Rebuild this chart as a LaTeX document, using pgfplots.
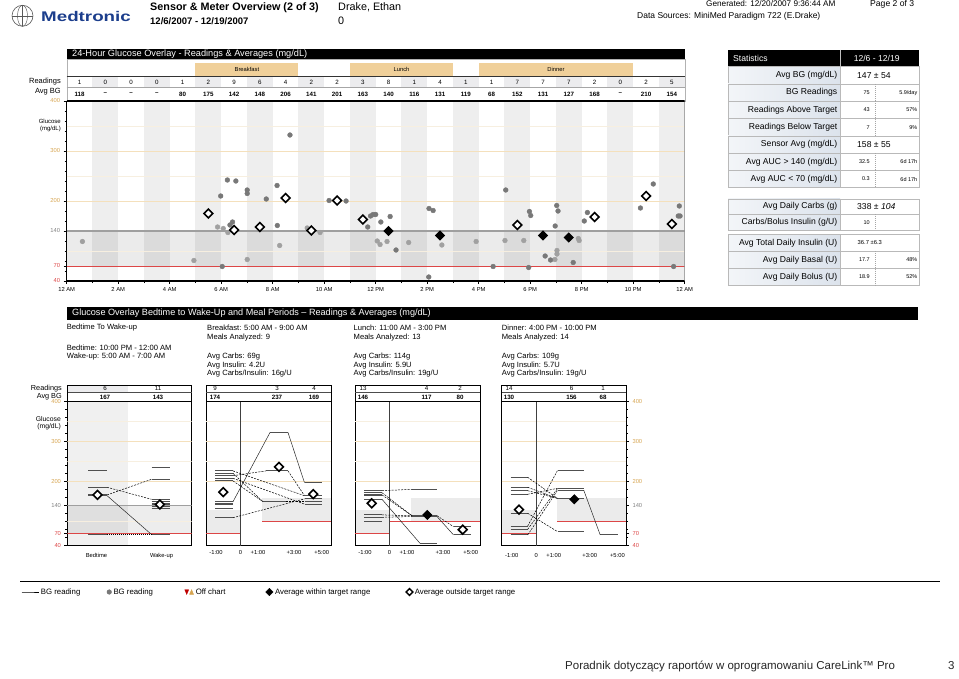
\documentclass[border=0pt]{standalone}
\usepackage{fontspec}
\setmainfont{Liberation Sans}
\usepackage{graphicx}
\usepackage{pgfplots}
\pgfplotsset{compat=1.18}
\definecolor{tanc}{RGB}{240,208,154}
\definecolor{tanline}{RGB}{244,224,188}
\definecolor{tanfaint}{RGB}{247,239,224}
\definecolor{tanlab}{RGB}{214,164,80}
\definecolor{redl}{RGB}{220,70,70}
\definecolor{dotd}{RGB}{120,120,120}
\definecolor{dotl}{RGB}{160,160,160}
\definecolor{cellg}{RGB}{236,236,238}
\definecolor{statl}{RGB}{220,227,236}
\definecolor{mblue}{RGB}{28,62,140}
\definecolor{segc}{RGB}{80,80,80}
\newcommand{\fs}[1]{\fontsize{#1}{#1}\selectfont}
\pgfplotsset{
  odiam/.style={only marks, mark=square*, mark size=3.1pt, mark options={rotate=45, fill=white, draw=black, line width=1.6pt}, forget plot},
  fdiam/.style={only marks, mark=square*, mark size=3.1pt, mark options={rotate=45, fill=black, draw=black, line width=1pt}, forget plot},
  seg/.style={segc, line width=1.1pt, forget plot, unbounded coords=jump},
  con/.style={black, line width=0.5pt, dash pattern=on 2pt off 1.2pt, forget plot},
  sol/.style={black!85, line width=0.5pt, forget plot},
  panel/.style={scale only axis, height=144pt, ymin=40, ymax=400,
     axis line style={line width=0.8pt},
     ytick=\empty, xtick style={draw=none},
     ticklabel style={font=\fs{5.8}},
     xticklabel style={yshift=-1pt}},
  ylabs/.style={ytick={40,70,140,200,300,400},
     yticklabels={\textcolor{redl}{40},\textcolor{redl}{70},\textcolor{gray}{140},\textcolor{tanlab}{200},\textcolor{tanlab}{300},\textcolor{tanlab}{400}},
     minor ytick={60,80,...,380}, tick align=outside,
     major tick length=3pt, minor tick length=2pt,
     ytick style={black, line width=0.4pt}},
}
\newcommand{\srow}[3]{%
  \shade[left color=statl!35, right color=statl] (728,#1) rectangle (840,#2);
  \draw[gray!55, line width=0.5pt] (728,#1) rectangle (919,#2);
  \draw[gray!55, line width=0.5pt] (840,#1) -- (840,#2);
  \node[anchor=east, font=\fs{8.6}, inner sep=0pt] at (837.5,{(#1+#2)/2}) {#3};
}
\newcommand{\sdash}[2]{\draw[gray!70, dash pattern=on 1pt off 1pt] (875,#1) -- (875,#2);}
\begin{document}
\begin{tikzpicture}
\begin{scope}[yshift=678pt, x=1pt, y=-1pt]
\useasboundingbox (0,0) rectangle (959,678);
% ---------- header
\draw[gray!70!black, line width=0.6pt] (22.5,15.8) circle (10.5pt);
\draw[gray!70!black, line width=0.45pt] (12,15.8) -- (33,15.8) (22.5,5.3) -- (22.5,26.3);
\draw[gray!70!black, line width=0.45pt] (22.5,15.8) ellipse (5pt and 10.5pt);
\node[anchor=base west, inner sep=0pt, text=mblue, font=\fs{14}\bfseries] at (41,21.5) {\scalebox{1.34}[1]{Medtronic}};
\node[anchor=base west, inner sep=0pt, font=\fs{10.8}\bfseries] at (150,10.5) {Sensor \& Meter Overview (2 of 3)};
\node[anchor=base west, inner sep=0pt, font=\fs{9.5}\bfseries] at (150,25) {12/6/2007 - 12/19/2007};
\node[anchor=base west, inner sep=0pt, font=\fs{10.8}] at (338,10.5) {Drake, Ethan};
\node[anchor=base west, inner sep=0pt, font=\fs{10.8}] at (338,25) {0};
\node[anchor=base west, inner sep=0pt, font=\fs{8.2}] at (706,6.5) {Generated: 12/20/2007 9:36:44 AM};
\node[anchor=base west, inner sep=0pt, font=\fs{8.6}] at (870,6.5) {Page 2 of 3};
\node[anchor=base west, inner sep=0pt, font=\fs{8.5}] at (637,18.5) {Data Sources: MiniMed Paradigm 722 (E.Drake)};
% ---------- top chart header table
\fill[black] (66.7,49) rectangle (684.7,59);
\node[anchor=west, inner sep=0pt, white, font=\fs{9.2}] at (72,54) {24-Hour Glucose Overlay - Readings \& Averages (mg/dL)};
\fill[tanc] (195.45,63) rectangle (298.45,76);
\fill[tanc] (349.95,63) rectangle (452.95,76);
\fill[tanc] (478.7,63) rectangle (633.2,76);
\node[font=\fs{5.8}] at (246.9,69.5) {Breakfast};
\node[font=\fs{5.8}] at (401.5,69.5) {Lunch};
\node[font=\fs{5.8}] at (556,69.5) {Dinner};
\foreach \h in {1,3,...,23} \fill[cellg] ({66.7+25.75*\h},76.7) rectangle ({66.7+25.75*(\h+1)},87.3);
\draw[gray!60, line width=0.4pt] (66.7,59) rectangle (684.7,101);
\draw[black!80, line width=0.5pt] (66.7,76.7) -- (684.7,76.7);
\draw[gray!70, line width=0.4pt] (66.7,87.3) -- (684.7,87.3);
\foreach \h/\r/\a in {0/1/118,1/0/--,2/0/--,3/0/--,4/1/80,5/2/175,6/9/142,7/6/148,8/4/206,9/2/141,10/2/201,11/3/163,12/8/140,13/1/116,14/4/131,15/1/119,16/1/68,17/7/152,18/7/131,19/7/127,20/2/168,21/0/--,22/2/210,23/5/154}{
  \node[font=\fs{6.2}] at ({66.7+25.75*(\h+0.5)},82) {\r};
  \node[font=\fs{6.2}\bfseries] at ({66.7+25.75*(\h+0.5)},94) {\a};
}
\node[anchor=east, inner sep=0pt, font=\fs{7.5}] at (61,82) {Readings};
\node[anchor=east, inner sep=0pt, font=\fs{7.5}] at (61,92) {Avg BG};
\node[anchor=east, inner sep=0pt, font=\fs{6}] at (61,121) {Glucose};
\node[anchor=east, inner sep=0pt, font=\fs{6}] at (61,128.5) {(mg/dL)};
% ---------- statistics table
\fill[black] (728,50) rectangle (919,66.7);
\draw[gray!50] (840,50) -- (840,66.7);
\node[anchor=west, inner sep=0pt, white, font=\fs{8.6}] at (733,58.3) {Statistics};
\node[white, font=\fs{8.6}] at (876.7,58.3) {12/6 - 12/19};
\srow{66.7}{84.0}{Avg BG (mg/dL)}
\srow{84.0}{101.3}{BG Readings}
\srow{101.3}{118.6}{Readings Above Target}
\srow{118.6}{135.9}{Readings Below Target}
\srow{135.9}{153.2}{Sensor Avg (mg/dL)}
\srow{153.2}{170.4}{Avg AUC > 140 (mg/dL)}
\srow{170.4}{187.7}{Avg AUC < 70 (mg/dL)}
\srow{199}{214.5}{Avg Daily Carbs (g)}
\srow{214.5}{230.5}{Carbs/Bolus Insulin (g/U)}
\srow{234.3}{251.4}{Avg Total Daily Insulin (U)}
\srow{251.4}{268.6}{Avg Daily Basal (U)}
\srow{268.6}{285.7}{Avg Daily Bolus (U)}
\sdash{84.0}{101.3}\sdash{101.3}{118.6}\sdash{118.6}{135.9}\sdash{153.2}{170.4}\sdash{170.4}{187.7}
\sdash{214.5}{230.5}\sdash{251.4}{268.6}\sdash{268.6}{285.7}
\node[anchor=west, inner sep=0pt, font=\fs{8.6}] at (857,75.3) {147 ± 54};
\node[anchor=west, inner sep=0pt, font=\fs{8.6}] at (857,144.5) {158 ± 55};
\node[anchor=west, inner sep=0pt, font=\fs{8.6}] at (857,206.8) {338 ± \textit{104}};
\node[anchor=west, inner sep=0pt, font=\fs{5.8}] at (857.5,242.9) {36.7 ±6.3};
\foreach \y/\a/\b in {92.6/75/{5.9/day},110.0/43/57\%,127.2/7/9\%,161.8/32.5/6d 17h,179.1/0.3/6d 17h,222.5/10/{},260/17.7/48\%,277.1/18.9/52\%}{
  \node[anchor=east, inner sep=0pt, font=\fs{5.5}] at (870,\y) {\a};
  \node[anchor=east, inner sep=0pt, font=\fs{5.5}] at (917.5,\y) {\b};
}
% ---------- bottom section texts
\fill[black] (66.7,307) rectangle (918,320);
\node[anchor=west, inner sep=0pt, white, font=\fs{9.1}] at (72,313.5) {Glucose Overlay Bedtime to Wake-Up and Meal Periods – Readings \& Averages (mg/dL)};
\begin{scope}[every node/.style={anchor=west, inner sep=0pt, font=\fs{7.6}}]
\node at (66.7,328) {Bedtime To Wake-up};
\node at (66.7,348) {Bedtime: 10:00 PM - 12:00 AM};
\node at (66.7,356.7) {Wake-up: 5:00 AM - 7:00 AM};
\node at (207,328) {Breakfast: 5:00 AM - 9:00 AM};
\node at (207,338) {Meals Analyzed: 9};
\node at (207,356.7) {Avg Carbs: 69g};
\node at (207,365.3) {Avg Insulin: 4.2U};
\node at (207,374) {Avg Carbs/Insulin: 16g/U};
\node at (353.5,328) {Lunch: 11:00 AM - 3:00 PM};
\node at (353.5,338) {Meals Analyzed: 13};
\node at (353.5,356.7) {Avg Carbs: 114g};
\node at (353.5,365.3) {Avg Insulin: 5.9U};
\node at (353.5,374) {Avg Carbs/Insulin: 19g/U};
\node at (501.7,328) {Dinner: 4:00 PM - 10:00 PM};
\node at (501.7,338) {Meals Analyzed: 14};
\node at (501.7,356.7) {Avg Carbs: 109g};
\node at (501.7,365.3) {Avg Insulin: 5.7U};
\node at (501.7,374) {Avg Carbs/Insulin: 19g/U};
\end{scope}
% bottom readings tables
\fill[cellg] (67.5,385) rectangle (128,392.5);
\foreach \l/\w in {67.5/124,206/125,355/125,501.7/124.3}{
  \draw[black, line width=0.5pt] (\l,385) rectangle ({\l+\w},401.7);
  \draw[black!70, line width=0.4pt] (\l,392.5) -- ({\l+\w},392.5);
}
\foreach \x/\r/\a in {105/6/167,158/11/143,215/9/174,277/3/237,314/4/169,363/13/146,426.5/4/117,460/2/80,509/14/130,571.5/6/156,603/1/68}{
  \node[font=\fs{6.2}] at (\x,388.5) {\r};
  \node[font=\fs{6.2}\bfseries] at (\x,397) {\a};
}
\node[anchor=east, inner sep=0pt, font=\fs{7.3}] at (62,388.5) {Readings};
\node[anchor=east, inner sep=0pt, font=\fs{7.3}] at (62,397) {Avg BG};
\node[anchor=east, inner sep=0pt, font=\fs{6.8}] at (61,419) {Glucose};
\node[anchor=east, inner sep=0pt, font=\fs{6.8}] at (61,426.5) {(mg/dL)};
% ---------- legend rule and footer
\draw[black, line width=1pt] (20,581.5) -- (940,581.5);
\node[anchor=west, inner sep=0pt, font=\fs{11.5}, text=black!85] at (565,666) {Poradnik dotyczący raportów w oprogramowaniu CareLink™ Pro};
\node[anchor=west, inner sep=0pt, font=\fs{11.5}, text=black!85] at (948,666) {3};
\end{scope}
% ---------- top chart
\begin{axis}[
  at={(66.7pt,397pt)}, anchor=south west,
  scale only axis, width=618pt, height=180pt,
  xmin=0, xmax=24, ymin=40, ymax=400,
  axis x line*=bottom, axis y line*=left,
  axis line style={line width=1.1pt},
  tick align=outside,
  xtick={0,2,...,24},
  xticklabels={12 AM,2 AM,4 AM,6 AM,8 AM,10 AM,12 PM,2 PM,4 PM,6 PM,8 PM,10 PM,12 AM},
  minor xtick={1,3,...,23},
  ytick={40,70,140,200,300,400},
  yticklabels={\textcolor{redl}{40},\textcolor{redl}{70},\textcolor{gray}{140},\textcolor{tanlab}{200},\textcolor{tanlab}{300},\textcolor{tanlab}{400}},
  minor ytick={60,80,...,380},
  major tick length=3pt, minor tick length=2pt,
  tick style={black, line width=0.45pt},
  ticklabel style={font=\fs{5.8}},
  legend style={at={(-0.0740,-1.7278)}, anchor=west, draw=none, fill=none, font=\fs{7.8}, legend columns=-1, inner sep=0pt},
]
\fill[black, fill opacity=0.065] (axis cs:1,40) rectangle (axis cs:2,400);
\fill[black, fill opacity=0.065] (axis cs:3,40) rectangle (axis cs:4,400);
\fill[black, fill opacity=0.065] (axis cs:5,40) rectangle (axis cs:6,400);
\fill[black, fill opacity=0.065] (axis cs:7,40) rectangle (axis cs:8,400);
\fill[black, fill opacity=0.065] (axis cs:9,40) rectangle (axis cs:10,400);
\fill[black, fill opacity=0.065] (axis cs:11,40) rectangle (axis cs:12,400);
\fill[black, fill opacity=0.065] (axis cs:13,40) rectangle (axis cs:14,400);
\fill[black, fill opacity=0.065] (axis cs:15,40) rectangle (axis cs:16,400);
\fill[black, fill opacity=0.065] (axis cs:17,40) rectangle (axis cs:18,400);
\fill[black, fill opacity=0.065] (axis cs:19,40) rectangle (axis cs:20,400);
\fill[black, fill opacity=0.065] (axis cs:21,40) rectangle (axis cs:22,400);
\fill[black, fill opacity=0.065] (axis cs:23,40) rectangle (axis cs:24,400);
\fill[black, fill opacity=0.08] (axis cs:0,70) rectangle (axis cs:24,140);
\draw[tanfaint, line width=0.6pt] (axis cs:0,100) -- (axis cs:24,100);
\draw[tanfaint, line width=0.6pt] (axis cs:0,250) -- (axis cs:24,250);
\draw[tanfaint, line width=0.6pt] (axis cs:0,350) -- (axis cs:24,350);
\draw[tanline, line width=0.7pt] (axis cs:0,200) -- (axis cs:24,200);
\draw[tanline, line width=0.7pt] (axis cs:0,300) -- (axis cs:24,300);
\draw[gray!75, line width=1.4pt] (axis cs:0,140) -- (axis cs:24,140);
\draw[redl, line width=0.8pt] (axis cs:0,70) -- (axis cs:24,70);
\draw[gray, line width=0.6pt] (axis cs:24,40) -- (axis cs:24,400);
\draw[black, line width=1.1pt] (axis cs:0,400) -- (axis cs:24,400);
\addplot[only marks, mark=*, mark size=2.4pt, color=dotl, forget plot] coordinates {
(0.61,119) (4.94,81) (5.86,148) (6.08,145) (6.26,137) (7.01,83) (8.27,111) (9.34,146) (9.84,137) (12.06,120) (12.17,113) (12.44,119) (13.28,117) (14.57,112) (15.9,119) (17.02,121) (17.75,121) (18.96,83) (19.04,94) (19.04,101) (19.87,125) (19.9,121)};
\addplot[only marks, mark=*, mark size=2.4pt, color=dotd, forget plot] coordinates {
(5.98,210) (6.04,69) (6.24,242) (6.57,240) (6.44,158) (6.34,152) (7.01,222) (7.01,215) (7.75,204) (8.17,231) (8.18,151) (8.67,332) (10.19,201) (10.85,200) (11.69,148) (11.8,170) (11.9,173) (12.0,173) (12.2,158) (12.56,169) (12.79,102) (14.07,185) (14.23,181) (14.06,48) (16.56,69) (17.05,222) (17.94,67) (17.97,179) (18.02,171) (18.58,90) (18.79,82) (18.97,150) (19.03,191) (19.08,180) (19.67,77) (20.1,160) (20.22,177) (22.28,186) (22.78,234) (23.57,69) (23.79,190) (23.75,170) (23.82,170)};
\addplot[odiam] coordinates {(5.5,175)(6.5,142)(7.5,148)(8.5,206)(9.5,141)(10.5,201)(11.5,163)(17.5,152)(20.5,168)(22.5,210)(23.5,154)};
\addplot[fdiam] coordinates {(12.5,140)(14.5,131)(18.5,131)(19.5,127)};
% legend
\addlegendimage{black, line width=0.7pt}
\addlegendentry{\makebox[64pt][l]{BG reading}}
\addlegendimage{only marks, mark=*, mark size=2.3pt, color=dotd}
\addlegendentry{\makebox[69pt][l]{BG reading}}
\addlegendimage{legend image code/.code={%
  \fill[red!75!black] (0.16cm,2.3pt) -- (0.30cm,2.3pt) -- (0.23cm,-2.3pt) -- cycle;
  \fill[tanlab] (0.33cm,-2.3pt) -- (0.47cm,-2.3pt) -- (0.40cm,2.3pt) -- cycle;}}
\addlegendentry{\makebox[68pt][l]{Off chart}}
\addlegendimage{only marks, mark=square*, mark size=2.6pt, mark options={rotate=45, fill=black, draw=black}}
\addlegendentry{\makebox[129pt][l]{Average within target range}}
\addlegendimage{only marks, mark=square*, mark size=2.4pt, mark options={rotate=45, fill=white, draw=black, line width=1.3pt}}
\addlegendentry{Average outside target range}
\end{axis}
% ---------- panel 1 : bedtime
\begin{axis}[panel, ylabs, at={(67.5pt,132.3pt)}, anchor=south west, width=124pt, xmin=0, xmax=124,
  xtick={29,94}, xticklabels={Bedtime,Wake-up}, ytick pos=left]
\fill[black, fill opacity=0.06] (axis cs:0,40) rectangle (axis cs:60.5,400);
\fill[black, fill opacity=0.07] (axis cs:0,70) rectangle (axis cs:124,140);
\draw[tanfaint, line width=0.6pt] (axis cs:0,100) -- (axis cs:124,100);
\draw[tanfaint, line width=0.6pt] (axis cs:0,250) -- (axis cs:124,250);
\draw[tanfaint, line width=0.6pt] (axis cs:0,350) -- (axis cs:124,350);
\draw[tanline, line width=0.7pt] (axis cs:0,200) -- (axis cs:124,200);
\draw[tanline, line width=0.7pt] (axis cs:0,300) -- (axis cs:124,300);
\draw[gray!75, line width=1.1pt] (axis cs:0,140) -- (axis cs:124,140);
\draw[redl, line width=0.8pt] (axis cs:0,70) -- (axis cs:124,70);
\addplot[seg] coordinates {(20.6,229)(39.6,229)(nan,nan)(20.6,186)(39.6,186)(nan,nan)(20.6,167)(39.6,167)(nan,nan)(20.6,165)(39.6,165)(nan,nan)(20.6,68)(39.6,68)
 (nan,nan)(84,236)(102.3,236)(nan,nan)(84,206)(102.3,206)(nan,nan)(84,156)(102.3,156)(nan,nan)(84,150)(102.3,150)(nan,nan)(84,146)(102.3,146)(nan,nan)(84,144)(102.3,144)(nan,nan)(84,139)(102.3,139)(nan,nan)(84,134)(102.3,134)(nan,nan)(84,68)(102.3,68)};
\addplot[con] coordinates {(39.6,167)(84,206)};
\addplot[con] coordinates {(39.6,186)(84,156)};
\addplot[sol] coordinates {(39.6,165)(84,68)};
\addplot[black, line width=0.5pt, dash pattern=on 1pt off 1pt, forget plot] coordinates {(39.6,68)(84,68)};
\addplot[odiam] coordinates {(30,167)(92.3,143)};
\end{axis}
% ---------- panel 2 : breakfast
\begin{axis}[panel, at={(206pt,132.3pt)}, anchor=south west, width=125pt, xmin=0, xmax=125,
  xtick={10,34.5,52,88,115.7}, xticklabels={-1:00,0,+1:00,+3:00,+5:00}]
\fill[black, fill opacity=0.08] (axis cs:0,70) rectangle (axis cs:34.5,130);
\fill[black, fill opacity=0.08] (axis cs:56,100) rectangle (axis cs:125,160);
\draw[tanfaint, line width=0.6pt] (axis cs:0,250) -- (axis cs:125,250);
\draw[tanfaint, line width=0.6pt] (axis cs:0,350) -- (axis cs:125,350);
\draw[tanline, line width=0.7pt] (axis cs:0,200) -- (axis cs:125,200);
\draw[tanline, line width=0.7pt] (axis cs:0,300) -- (axis cs:125,300);
\draw[redl, line width=0.8pt] (axis cs:0,70) -- (axis cs:34.5,70);
\draw[redl, line width=0.8pt] (axis cs:56,100) -- (axis cs:125,100);
\draw[black!75, line width=0.8pt] (axis cs:34.5,40) -- (axis cs:34.5,400);
\addplot[seg] coordinates {(9,227)(27,227)(nan,nan)(9,221)(27,221)(nan,nan)(9,215)(27,215)(nan,nan)(9,208.5)(27,208.5)(nan,nan)(9,202)(27,202)(nan,nan)(9,150)(27,150)(nan,nan)(9,146)(27,146)(nan,nan)(9,144)(27,144)(nan,nan)(9,133.5)(27,133.5)(nan,nan)(9,110)(27,110)
 (nan,nan)(64,323)(82,323)(nan,nan)(60,227)(82,227)(nan,nan)(57,150)(80,150)
 (nan,nan)(98.5,197.5)(116,197.5)(nan,nan)(98.5,165)(116,165)(nan,nan)(98.5,157)(116,157)(nan,nan)(98.5,150)(116,150)(nan,nan)(98.5,144)(116,144)};
\addplot[sol] coordinates {(27,150)(64,323)};
\addplot[sol] coordinates {(82,323)(98.5,197.5)};
\addplot[con] coordinates {(27,110)(98.5,157)};
\addplot[con] coordinates {(27,227)(98.5,165)};
\addplot[con] coordinates {(27,221)(57,150)};
\addplot[con] coordinates {(80,150)(98.5,150)};
\addplot[con] coordinates {(27,215)(60,227)};
\addplot[con] coordinates {(82,227)(98.5,165)};
\addplot[con] coordinates {(27,208.5)(98.5,144)};
\addplot[con] coordinates {(27,202)(57,150)};
\addplot[odiam] coordinates {(17.3,174)(73,237)(107.3,169)};
\end{axis}
% ---------- panel 3 : lunch
\begin{axis}[panel, at={(355pt,132.3pt)}, anchor=south west, width=125pt, xmin=0, xmax=125,
  xtick={10,34.5,52,88,115.7}, xticklabels={-1:00,0,+1:00,+3:00,+5:00}]
\fill[black, fill opacity=0.08] (axis cs:0,70) rectangle (axis cs:34.5,130);
\fill[black, fill opacity=0.08] (axis cs:56,100) rectangle (axis cs:125,160);
\draw[tanfaint, line width=0.6pt] (axis cs:0,250) -- (axis cs:125,250);
\draw[tanfaint, line width=0.6pt] (axis cs:0,350) -- (axis cs:125,350);
\draw[tanline, line width=0.7pt] (axis cs:0,200) -- (axis cs:125,200);
\draw[tanline, line width=0.7pt] (axis cs:0,300) -- (axis cs:125,300);
\draw[redl, line width=0.8pt] (axis cs:0,70) -- (axis cs:34.5,70);
\draw[redl, line width=0.8pt] (axis cs:34.5,100) -- (axis cs:125,100);
\draw[black!75, line width=0.8pt] (axis cs:34.5,40) -- (axis cs:34.5,400);
\addplot[seg] coordinates {(9,177.5)(27,177.5)(nan,nan)(9,172.5)(27,172.5)(nan,nan)(9,167)(27,167)(nan,nan)(9,165)(27,165)(nan,nan)(9,156)(27,156)(nan,nan)(9,117)(27,117)(nan,nan)(9,111)(27,111)(nan,nan)(9,100)(27,100)
 (nan,nan)(57,181)(82,181)(nan,nan)(57,115)(82,115)(nan,nan)(57,113)(82,113)(nan,nan)(65,46)(82,46)
 (nan,nan)(98.5,87.5)(116,87.5)(nan,nan)(98.5,67)(116,67)};
\addplot[con] coordinates {(27,177.5)(57,181)};
\addplot[con] coordinates {(27,172.5)(57,115)};
\addplot[con] coordinates {(27,167)(57,115)};
\addplot[sol] coordinates {(27,156)(65,46)};
\addplot[con] coordinates {(27,117)(57,115)};
\addplot[con] coordinates {(27,111)(57,113)};
\addplot[con] coordinates {(82,115)(98.5,87.5)};
\addplot[sol] coordinates {(82,113)(98.5,67)};
\addplot[odiam] coordinates {(16.7,146)(107.7,80)};
\addplot[fdiam] coordinates {(72.3,117)};
\end{axis}
% ---------- panel 4 : dinner
\begin{axis}[panel, ylabs, at={(501.7pt,132.3pt)}, anchor=south west, width=124.3pt, xmin=0, xmax=124.3,
  xtick={10,34.5,52,88,115.7}, xticklabels={-1:00,0,+1:00,+3:00,+5:00}, ytick pos=right, yticklabel pos=right]
\fill[black, fill opacity=0.08] (axis cs:0,70) rectangle (axis cs:35,130);
\fill[black, fill opacity=0.08] (axis cs:55.6,100) rectangle (axis cs:124.3,160);
\draw[tanfaint, line width=0.6pt] (axis cs:0,250) -- (axis cs:124.3,250);
\draw[tanfaint, line width=0.6pt] (axis cs:0,350) -- (axis cs:124.3,350);
\draw[tanline, line width=0.7pt] (axis cs:0,200) -- (axis cs:124.3,200);
\draw[tanline, line width=0.7pt] (axis cs:0,300) -- (axis cs:124.3,300);
\draw[redl, line width=0.8pt] (axis cs:0,70) -- (axis cs:35,70);
\draw[redl, line width=0.8pt] (axis cs:55.6,100) -- (axis cs:124.3,100);
\draw[black!75, line width=0.8pt] (axis cs:35,40) -- (axis cs:35,400);
\addplot[seg] coordinates {(9,211)(26,211)(nan,nan)(9,186)(26,186)(nan,nan)(9,177.5)(26,177.5)(nan,nan)(9,168.5)(26,168.5)(nan,nan)(9,121)(26,121)(nan,nan)(9,89)(26,89)(nan,nan)(9,81)(26,81)(nan,nan)(9,67)(26,67)
 (nan,nan)(56,229)(82,229)(nan,nan)(56,183.5)(82,183.5)(nan,nan)(56,179)(82,179)(nan,nan)(56,158)(82,158)(nan,nan)(56,75)(82,75)
 (nan,nan)(98.5,67)(116,67)};
\addplot[con] coordinates {(26,211)(56,158)};
\addplot[con] coordinates {(26,186)(56,158)};
\addplot[con] coordinates {(26,177.5)(56,158)};
\addplot[con] coordinates {(26,168.5)(56,183.5)};
\addplot[con] coordinates {(26,121)(56,75)};
\addplot[con] coordinates {(26,89)(56,229)};
\addplot[con] coordinates {(26,81)(56,183.5)};
\addplot[con] coordinates {(26,67)(56,179)};
\addplot[sol] coordinates {(82,179)(98.5,67)};
\addplot[odiam] coordinates {(17.3,130)};
\addplot[fdiam] coordinates {(72.6,156)};
\end{axis}
\end{tikzpicture}
\end{document}
